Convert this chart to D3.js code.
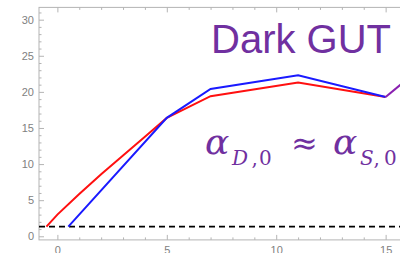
<!DOCTYPE html>
<html>
<head>
<meta charset="utf-8">
<script src="https://cdn.jsdelivr.net/npm/d3@7"></script>
<style>
  body { margin: 0; background: #fff; }
  svg { display: block; }
</style>
</head>
<body>
<div id="chart"></div>
<script>
// data
const redX = [-0.5, 0, 1, 2, 3, 4, 5, 7, 11, 15];
const redY = [1.33, 3.0, 5.85, 8.6, 11.2, 13.8, 16.4, 19.4, 21.3, 19.3];
const blueX = [0.5, 5, 7, 11, 15];
const blueY = [1.33, 16.4, 20.4, 22.3, 19.3];
// both curves coincide after x = 15
const sharedX = [15, 17];
const sharedY = [19.3, 24.3];
const threshold = 1.33;
const xTicks = [0, 5, 10, 15];
const yTicks = [0, 5, 10, 15, 20, 25, 30];

const W = 400, H = 253;
const svg = d3.select('#chart').append('svg')
  .attr('width', W)
  .attr('height', H);

const x = d3.scaleLinear().domain([-0.84, 17]).range([39, 429.4]);
const y = d3.scaleLinear().domain([-0.5, 31.7]).range([239.9, 7.4]);

const frameColor = '#b4b4b4';
const labelColor = '#7f7f7f';

// frame
svg.append('rect')
  .attr('x', x.range()[0]).attr('y', y.range()[1])
  .attr('width', x.range()[1] - x.range()[0])
  .attr('height', y.range()[0] - y.range()[1])
  .attr('fill', 'none')
  .attr('stroke', frameColor)
  .attr('stroke-width', 1);

function styleAxis(g){
  g.select('.domain').remove();
  g.selectAll('line').attr('stroke', frameColor);
  g.selectAll('text')
    .attr('fill', labelColor)
    .style('font-family', 'Liberation Sans, Arial, sans-serif')
    .style('font-size', '11px');
}

// minor ticks every unit
const xMinor = d3.range(0, 18).filter(v => !xTicks.includes(v));
const yMinor = d3.range(0, 32).filter(v => !yTicks.includes(v));

// bottom axis
svg.append('g')
  .attr('transform', `translate(0,${y.range()[0]})`)
  .call(d3.axisBottom(x).tickValues(xTicks).tickSizeInner(-5).tickSizeOuter(0).tickPadding(6.5))
  .call(styleAxis);
svg.append('g')
  .attr('transform', `translate(0,${y.range()[0]})`)
  .call(d3.axisBottom(x).tickValues(xMinor).tickSizeInner(-2.5).tickSizeOuter(0).tickFormat(''))
  .call(styleAxis);

// top axis (mirrored, no labels)
svg.append('g')
  .attr('transform', `translate(0,${y.range()[1]})`)
  .call(d3.axisTop(x).tickValues(xTicks).tickSizeInner(-5).tickSizeOuter(0).tickFormat(''))
  .call(styleAxis);
svg.append('g')
  .attr('transform', `translate(0,${y.range()[1]})`)
  .call(d3.axisTop(x).tickValues(xMinor).tickSizeInner(-2.5).tickSizeOuter(0).tickFormat(''))
  .call(styleAxis);

// left axis
svg.append('g')
  .attr('transform', `translate(${x.range()[0]},0)`)
  .call(d3.axisLeft(y).tickValues(yTicks).tickSizeInner(-5).tickSizeOuter(0).tickPadding(5))
  .call(styleAxis);
svg.append('g')
  .attr('transform', `translate(${x.range()[0]},0)`)
  .call(d3.axisLeft(y).tickValues(yMinor).tickSizeInner(-2.5).tickSizeOuter(0).tickFormat(''))
  .call(styleAxis);

// clip to plot area
svg.append('clipPath').attr('id', 'plot-clip')
  .append('rect')
  .attr('x', x.range()[0]).attr('y', y.range()[1])
  .attr('width', x.range()[1] - x.range()[0])
  .attr('height', y.range()[0] - y.range()[1]);

const plot = svg.append('g').attr('clip-path', 'url(#plot-clip)');

// dashed threshold
plot.append('line')
  .attr('x1', x.range()[0]).attr('x2', x.range()[1])
  .attr('y1', y(threshold)).attr('y2', y(threshold))
  .attr('stroke', '#000')
  .attr('stroke-width', 1.8)
  .attr('stroke-dasharray', '6,4');

const line = d3.line()
  .x(d => x(d[0]))
  .y(d => y(d[1]));

plot.append('path')
  .datum(d3.zip(redX, redY))
  .attr('d', line)
  .attr('fill', 'none')
  .attr('stroke', '#ff1010')
  .attr('stroke-width', 2);

plot.append('path')
  .datum(d3.zip(blueX, blueY))
  .attr('d', line)
  .attr('fill', 'none')
  .attr('stroke', '#1a1aff')
  .attr('stroke-width', 2);

plot.append('path')
  .datum(d3.zip(sharedX, sharedY))
  .attr('d', line)
  .attr('fill', 'none')
  .attr('stroke', '#8a20b0')
  .attr('stroke-width', 2);

// annotations
const purple = '#7030a0';
svg.append('text')
  .attr('x', 211).attr('y', 53.3)
  .attr('fill', purple)
  .style('font-family', 'Liberation Sans, Arial, sans-serif')
  .style('font-size', '40px')
  .text('Dark GUT');

const mathFont = 'DejaVu Serif, serif';
const eq = svg.append('text')
  .attr('fill', purple)
  .style('font-family', mathFont);

function piece(txt, xPos, yPos, size, italic){
  eq.append('tspan')
    .attr('x', xPos).attr('y', yPos)
    .style('font-size', size + 'px')
    .style('font-style', italic ? 'italic' : 'normal')
    .text(txt);
}
piece('α', 205, 154, 36, true);
piece('D', 232, 164.5, 20, true);
piece(',', 251.5, 164.5, 20, false);
piece('0', 259, 164.5, 20, false);
piece('≈', 291, 154, 32, false);
piece('α', 333, 154, 36, true);
piece('S', 360, 164.5, 20, true);
piece(',', 373.5, 164.5, 20, false);
piece('0', 384, 164.5, 20, false);
</script>
</body>
</html>
